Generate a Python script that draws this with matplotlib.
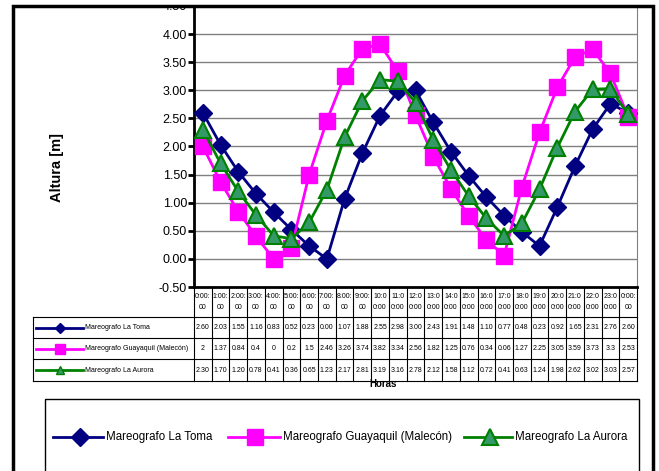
import numpy as np
import matplotlib.pyplot as plt
from matplotlib.patches import Rectangle

plt.rcParams['font.family'] = ['Liberation Sans', 'DejaVu Sans']

# horas del dia (encabezado de la tabla)
horas = ["0:00:00", "1:00:00", "2:00:00", "3:00:00", "4:00:00", "5:00:00",
         "6:00:00", "7:00:00", "8:00:00", "9:00:00", "10:00:00", "11:00:00",
         "12:00:00", "13:00:00", "14:00:00", "15:00:00", "16:00:00", "17:00:00",
         "18:00:00", "19:00:00", "20:00:00", "21:00:00", "22:00:00", "23:00:00",
         "0:00:00"]

# alturas de marea [m]
la_toma = [2.60, 2.03, 1.55, 1.16, 0.83, 0.52, 0.23, 0.00, 1.07, 1.88, 2.55, 2.98, 3.00,
           2.43, 1.91, 1.48, 1.10, 0.77, 0.48, 0.23, 0.92, 1.65, 2.31, 2.76, 2.60]
guayaquil = [2, 1.37, 0.84, 0.4, 0, 0.2, 1.5, 2.46, 3.26, 3.74, 3.82, 3.34, 2.56,
             1.82, 1.25, 0.76, 0.34, 0.06, 1.27, 2.25, 3.05, 3.59, 3.73, 3.3, 2.53]
aurora = [2.30, 1.70, 1.20, 0.78, 0.41, 0.36, 0.65, 1.23, 2.17, 2.81, 3.19, 3.16, 2.78,
          2.12, 1.58, 1.12, 0.72, 0.41, 0.63, 1.24, 1.98, 2.62, 3.02, 3.03, 2.57]

nombres = ["Mareografo La Toma", "Mareografo Guayaquil (Malecón)", "Mareografo La Aurora"]

# estilos de cada serie
estilos = [
    dict(color='#000080', marker='D', mfc='#000080', mec='#000080', ms=9, mew=1),
    dict(color='#FF00FF', marker='s', mfc='#FF00FF', mec='#FF00FF', ms=12, mew=1),
    dict(color='#008000', marker='^', mfc='#339966', mec='#008000', ms=12, mew=1.5),
]
series = [la_toma, guayaquil, aurora]
textos = [[f"{v:.2f}" for v in la_toma],
          [f"{v:g}" for v in guayaquil],
          [f"{v:.2f}" for v in aurora]]

W, H = 659, 471
fig = plt.figure(figsize=(W / 100, H / 100), dpi=100)


def caja(x0, y0, x1, y1):
    return [x0 / W, 1 - y1 / H, (x1 - x0) / W, (y1 - y0) / H]


# area de la grafica
px0, px1, py0, py1 = 194, 637, 6, 287
ax = fig.add_axes(caja(px0, py0, px1, py1))
x = np.arange(len(horas))
for s, e in zip(series, estilos):
    ax.plot(x, s, lw=2, zorder=3, **e)
ax.set_xlim(-0.5, len(horas) - 0.5)
ax.set_ylim(-0.5, 4.5)
yt = np.arange(-0.5, 4.51, 0.5)
ax.set_yticks(yt)
ax.set_yticklabels([f"{v:.2f}" for v in yt], fontsize=9)
ax.set_xticks([])
ax.yaxis.grid(True, color='#808080', lw=1)
ax.set_axisbelow(True)
ax.tick_params(axis='y', length=4, width=2, pad=1)
ax.spines['left'].set_linewidth(2)
ax.spines['bottom'].set_linewidth(2)
ax.spines['right'].set_color('#808080')
ax.spines['top'].set_visible(False)

fig.text(57 / W, 1 - 168 / H, 'Altura [m]', rotation=90, fontsize=10.5,
         fontweight='bold', ha='center', va='center')

# capa para tabla, marco y leyenda (coordenadas en pixeles)
ov = fig.add_axes([0, 0, 1, 1], zorder=5)
ov.set_xlim(0, W)
ov.set_ylim(H, 0)
ov.axis('off')

# tabla de datos
filas = [py1, 317, 338, 359, 381]
tx0 = 33
ancho = (px1 - px0) / len(horas)
bordes = [px0 + ancho * i for i in range(len(horas) + 1)]
for b in bordes:
    ov.plot([b, b], [filas[0], filas[-1]], color='black', lw=0.8)
ov.plot([tx0, tx0], [filas[1], filas[-1]], color='black', lw=0.8)
for f in filas[1:]:
    ov.plot([tx0, px1], [f, f], color='black', lw=0.8)

for i, h in enumerate(horas):
    xc = (bordes[i] + bordes[i + 1]) / 2
    corte = 5 if len(h) == 7 else 4
    ov.text(xc, (filas[0] + filas[1]) / 2, h[:corte] + "\n" + h[corte:], fontsize=5,
            ha='center', va='center', linespacing=1.7)

marcas_tabla = [5, 7, 6]
for j, (t, e) in enumerate(zip(textos, estilos)):
    yc = (filas[j + 1] + filas[j + 2]) / 2
    for i, v in enumerate(t):
        xc = (bordes[i] + bordes[i + 1]) / 2
        ov.text(xc, yc, v, fontsize=5, ha='center', va='center')
    ee = dict(e, ms=marcas_tabla[j], mew=1)
    ov.plot([36, 60, 83], [yc, yc, yc], lw=2, markevery=[1], **ee)
    ov.text(85, yc, nombres[j], fontsize=5, ha='left', va='center')

ov.text(383, 384, 'Horas', fontsize=7, fontweight='bold', ha='center', va='center')

# leyenda
ov.add_patch(Rectangle((45, 399), 594, 80, fill=False, ec='black', lw=1))
ly = 437
pos_leyenda = [(53, 80, 103), (228, 255, 280), (464, 490, 512)]
for (a, m, b), n, e in zip(pos_leyenda, nombres, estilos):
    ov.plot([a, m, b], [ly, ly, ly], lw=2, markevery=[1], **e)
    ov.text(b + 3, ly, n, fontsize=8.3, ha='left', va='center')

# franja superior blanca y marco exterior
ov.add_patch(Rectangle((0, 0), W, 6, color='white', zorder=4))
ov.plot([13, 13, 653, 653], [H + 5, 6, 6, H + 5], color='black', lw=2.5,
        solid_joinstyle='miter', clip_on=False, zorder=5)

fig.savefig('out.png', dpi=100)
